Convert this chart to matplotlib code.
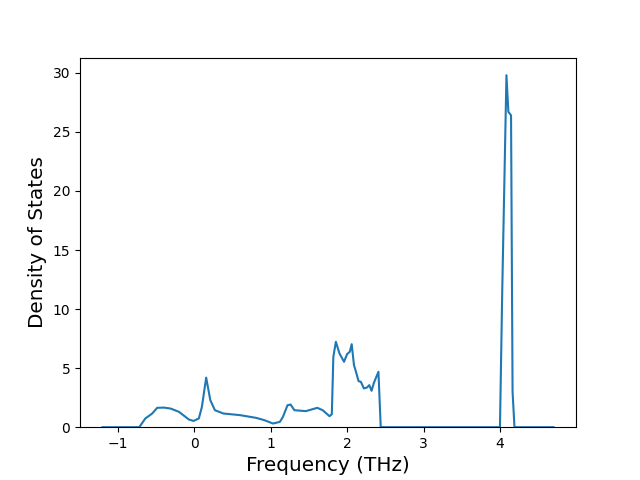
import matplotlib
matplotlib.use("Agg")
import matplotlib.pyplot as plt

# frequency (THz) and density of states
freq = [-1.2, -0.72, -0.64, -0.55, -0.485, -0.40, -0.31, -0.20, -0.07, -0.01, 0.06, 0.10,
        0.156, 0.21, 0.27, 0.38, 0.60, 0.81, 0.92, 1.03, 1.12, 1.16, 1.22, 1.26,
        1.31, 1.46, 1.61, 1.68, 1.77, 1.80, 1.82, 1.853, 1.90, 1.96, 2.0, 2.035,
        2.06, 2.09, 2.11, 2.15, 2.18, 2.22, 2.26, 2.29, 2.32, 2.35, 2.41, 2.44,
        4.0, 4.03, 4.085, 4.11, 4.145, 4.165, 4.19, 4.7]
dos = [0.0, 0.0, 0.74, 1.16, 1.64, 1.66, 1.58, 1.3, 0.65, 0.53, 0.74, 1.72,
       4.2, 2.29, 1.44, 1.16, 1.02, 0.79, 0.59, 0.31, 0.45, 0.87, 1.86, 1.92,
       1.44, 1.36, 1.64, 1.44, 0.93, 1.1, 5.96, 7.23, 6.24, 5.54, 6.19, 6.38,
       7.03, 5.25, 4.83, 3.9, 3.84, 3.28, 3.36, 3.56, 3.08, 3.75, 4.69, 0.0,
       0.0, 11.6, 29.8, 26.7, 26.4, 3.0, 0.0, 0.0]

fig = plt.figure(figsize=(6.4, 4.8))
ax = fig.add_subplot(111)
ax.plot(freq, dos)
ax.set_ylim(bottom=0)
ax.set_xlabel('Frequency (THz)', fontsize='x-large')
ax.set_ylabel('Density of States', fontsize='x-large')
fig.savefig('out.png', dpi=100)
